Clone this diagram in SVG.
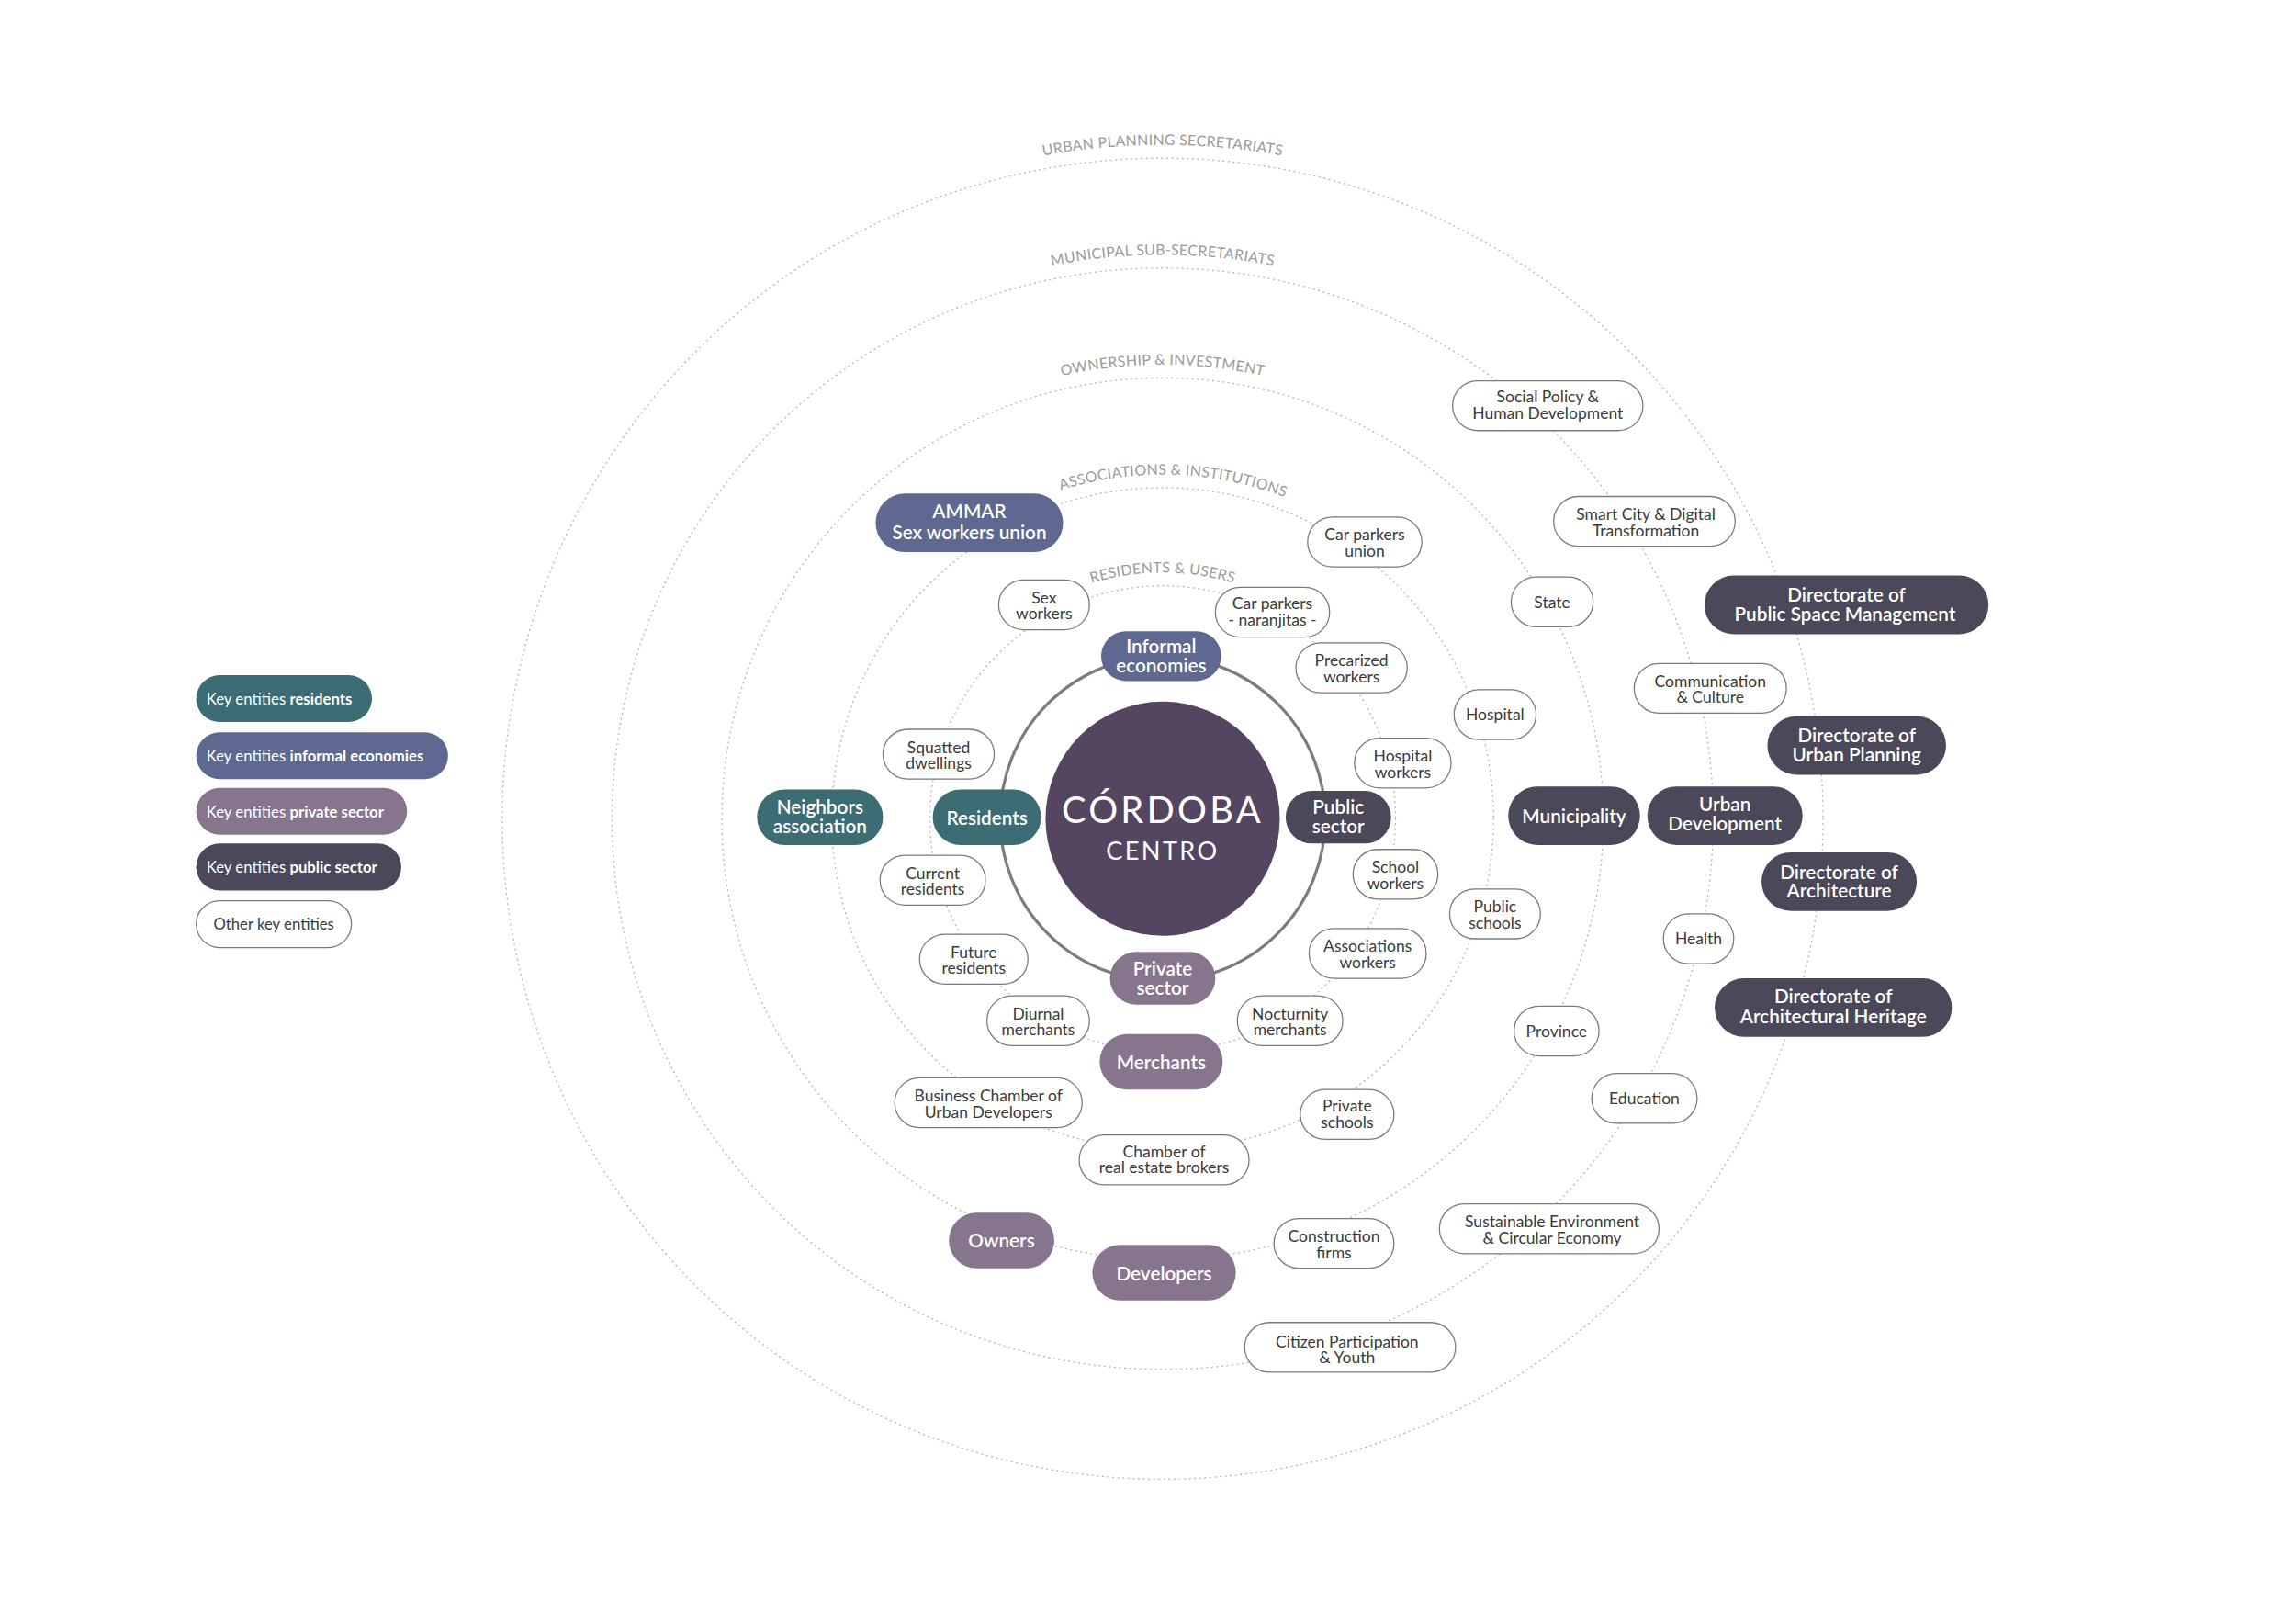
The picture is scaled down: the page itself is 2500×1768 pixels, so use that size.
<svg xmlns="http://www.w3.org/2000/svg" width="2500" height="1768" viewBox="0 0 2500 1768">
<style>
.ring{fill:none;stroke:#b8b8b8;stroke-width:0.9;stroke-dasharray:0.5 3;stroke-linecap:round}
.rl{font-family:Lato,"Liberation Sans",sans-serif;font-size:10px;fill:#9a9a9a;letter-spacing:0.2px}
.w rect{fill:#fff;stroke:#7a7a7a;stroke-width:0.8}
.w text{font-family:Lato,"Liberation Sans",sans-serif;font-size:11px;fill:#3a3a3a;text-anchor:middle}
.k text{font-family:Lato,"Liberation Sans",sans-serif;font-size:13px;fill:#fff;text-anchor:middle;font-weight:600}
.r rect{fill:#3c6c74}.i rect{fill:#5e6890}.p rect{fill:#86758d}.u rect{fill:#4a4859}
.lg text{font-family:Lato,"Liberation Sans",sans-serif;font-size:10.5px;fill:#fff}
.lg .w text{fill:#3a3a3a;text-anchor:middle}
</style>
<rect width="2500" height="1768" fill="#fff"/>
<g transform="scale(1.5944)">
<g id="rings">
<circle class="ring" cx="794" cy="559" r="451"/>
<circle class="ring" cx="794" cy="559" r="376"/>
<circle class="ring" cx="794" cy="559" r="301"/>
<circle class="ring" cx="794" cy="559" r="226"/>
<circle class="ring" cx="794" cy="559" r="159"/>
<path id="a1" d="M 334 559 A 460 460 0 0 1 1254 559" fill="none"/>
<path id="a2" d="M 409 559 A 385 385 0 0 1 1179 559" fill="none"/>
<path id="a3" d="M 484 559 A 310 310 0 0 1 1104 559" fill="none"/>
<path id="a4" d="M 559 559 A 235 235 0 0 1 1029 559" fill="none"/>
<path id="a5" d="M 626 559 A 168 168 0 0 1 962 559" fill="none"/>
<text class="rl"><textPath href="#a1" startOffset="50%" text-anchor="middle">URBAN PLANNING SECRETARIATS</textPath></text>
<text class="rl"><textPath href="#a2" startOffset="50%" text-anchor="middle">MUNICIPAL SUB-SECRETARIATS</textPath></text>
<text class="rl"><textPath href="#a3" startOffset="50%" text-anchor="middle">OWNERSHIP &amp; INVESTMENT</textPath></text>
<text class="rl"><textPath href="#a4" startOffset="51%" text-anchor="middle">ASSOCIATIONS &amp; INSTITUTIONS</textPath></text>
<text class="rl"><textPath href="#a5" startOffset="50%" text-anchor="middle">RESIDENTS &amp; USERS</textPath></text>
</g>
<g id="connectors">
<circle cx="794" cy="559" r="111" fill="none" stroke="#7d7a82" stroke-width="2"/>
</g>
<g id="center">
<circle cx="794" cy="559" r="80" fill="#544660"/>
<text x="794" y="562" font-family="Lato,'Liberation Sans',sans-serif" font-size="25" fill="#fff" text-anchor="middle" letter-spacing="2">CÓRDOBA</text>
<text x="794" y="587" font-family="Lato,'Liberation Sans',sans-serif" font-size="17" fill="#fff" text-anchor="middle" letter-spacing="1.5">CENTRO</text>
</g>
<g id="legend" class="lg">
<g id="lg1" class="r"><rect x="134" y="461" width="120" height="32" rx="16"/><text x="141" y="481">Key entities <tspan font-weight="700">residents</tspan></text></g>
<g id="lg2" class="i"><rect x="134" y="500" width="172" height="32" rx="16"/><text x="141" y="520">Key entities <tspan font-weight="700">informal economies</tspan></text></g>
<g id="lg3" class="p"><rect x="134" y="538" width="144" height="32" rx="16"/><text x="141" y="558">Key entities <tspan font-weight="700">private sector</tspan></text></g>
<g id="lg4" class="u"><rect x="134" y="576" width="140" height="32" rx="16"/><text x="141" y="596">Key entities <tspan font-weight="700">public sector</tspan></text></g>
<g id="lg5" class="w"><rect x="134" y="615" width="106" height="32" rx="16"/><text x="187" y="635">Other key entities</text></g>
</g>
<g id="n-ammar" class="k i"><rect x="598" y="337" width="128" height="40" rx="20"/><text x="662" y="354">AMMAR</text><text x="662" y="368">Sex workers union</text></g>
<g id="n-informal" class="k i"><rect x="752" y="431" width="82" height="34" rx="17"/><text x="793" y="446">Informal</text><text x="793" y="459">economies</text></g>
<g id="n-residents" class="k r"><rect x="637" y="539" width="74" height="38" rx="19"/><text x="674" y="563">Residents</text></g>
<g id="n-neighbors" class="k r"><rect x="517" y="539" width="86" height="38" rx="19"/><text x="560" y="556">Neighbors</text><text x="560" y="569">association</text></g>
<g id="n-public" class="k u"><rect x="878" y="540" width="72" height="36" rx="18"/><text x="914" y="556">Public</text><text x="914" y="569">sector</text></g>
<g id="n-private" class="k p"><rect x="758" y="650" width="72" height="36" rx="18"/><text x="794" y="666">Private</text><text x="794" y="679">sector</text></g>
<g id="n-merchants" class="k p"><rect x="751" y="706" width="84" height="38" rx="19"/><text x="793" y="730">Merchants</text></g>
<g id="n-owners" class="k p"><rect x="648" y="828" width="72" height="38" rx="19"/><text x="684" y="852">Owners</text></g>
<g id="n-developers" class="k p"><rect x="746" y="850" width="98" height="38" rx="19"/><text x="795" y="874">Developers</text></g>
<g id="n-municipality" class="k u"><rect x="1030" y="537" width="90" height="40" rx="20"/><text x="1075" y="562">Municipality</text></g>
<g id="n-urbandev" class="k u"><rect x="1125" y="537" width="106" height="40" rx="20"/><text x="1178" y="554">Urban</text><text x="1178" y="567">Development</text></g>
<g id="n-dpsm" class="k u"><rect x="1164" y="393" width="194" height="40" rx="20"/><text x="1261" y="411">Directorate of</text><text x="1260" y="424">Public Space Management</text></g>
<g id="n-dup" class="k u"><rect x="1207" y="489" width="122" height="40" rx="20"/><text x="1268" y="507">Directorate of</text><text x="1268" y="520">Urban Planning</text></g>
<g id="n-da" class="k u"><rect x="1203" y="582" width="106" height="40" rx="20"/><text x="1256" y="600">Directorate of</text><text x="1256" y="613">Architecture</text></g>
<g id="n-dah" class="k u"><rect x="1171" y="668" width="162" height="40" rx="20"/><text x="1252" y="685">Directorate of</text><text x="1252" y="699">Architectural Heritage</text></g>
<g id="n-sexw" class="w"><rect x="682" y="396" width="62" height="34" rx="17"/><text x="713" y="412">Sex</text><text x="713" y="423">workers</text></g>
<g id="n-naranjitas" class="w"><rect x="830" y="401" width="78" height="34" rx="17"/><text x="869" y="416">Car parkers</text><text x="869" y="427">- naranjitas -</text></g>
<g id="n-cpunion" class="w"><rect x="893" y="353" width="78" height="34" rx="17"/><text x="932" y="369">Car parkers</text><text x="932" y="380">union</text></g>
<g id="n-precar" class="w"><rect x="885" y="439" width="76" height="34" rx="17"/><text x="923" y="455">Precarized</text><text x="923" y="466">workers</text></g>
<g id="n-hospital" class="w"><rect x="993" y="471" width="56" height="34" rx="17"/><text x="1021" y="492">Hospital</text></g>
<g id="n-state" class="w"><rect x="1032" y="394" width="56" height="34" rx="17"/><text x="1060" y="415">State</text></g>
<g id="n-social" class="w"><rect x="992" y="260" width="130" height="34" rx="17"/><text x="1057" y="275">Social Policy &amp;</text><text x="1057" y="286">Human Development</text></g>
<g id="n-smart" class="w"><rect x="1061" y="339" width="124" height="34" rx="17"/><text x="1124" y="355">Smart City &amp; Digital</text><text x="1124" y="366">Transformation</text></g>
<g id="n-comm" class="w"><rect x="1116" y="453" width="104" height="34" rx="17"/><text x="1168" y="469">Communication</text><text x="1168" y="480">&amp; Culture</text></g>
<g id="n-health" class="w"><rect x="1136" y="624" width="48" height="34" rx="17"/><text x="1160" y="645">Health</text></g>
<g id="n-province" class="w"><rect x="1034" y="687" width="58" height="34" rx="17"/><text x="1063" y="708">Province</text></g>
<g id="n-education" class="w"><rect x="1087" y="733" width="72" height="34" rx="17"/><text x="1123" y="754">Education</text></g>
<g id="n-sustain" class="w"><rect x="983" y="822" width="150" height="34" rx="17"/><text x="1060" y="838">Sustainable Environment</text><text x="1060" y="849">&amp; Circular Economy</text></g>
<g id="n-citizen" class="w"><rect x="850" y="903" width="144" height="34" rx="17"/><text x="920" y="920">Citizen Participation</text><text x="920" y="931">&amp; Youth</text></g>
<g id="n-construction" class="w"><rect x="870" y="832" width="82" height="34" rx="17"/><text x="911" y="848">Construction</text><text x="911" y="859">firms</text></g>
<g id="n-privschools" class="w"><rect x="888" y="744" width="64" height="34" rx="17"/><text x="920" y="759">Private</text><text x="920" y="770">schools</text></g>
<g id="n-pubschools" class="w"><rect x="990" y="607" width="62" height="34" rx="17"/><text x="1021" y="623">Public</text><text x="1021" y="634">schools</text></g>
<g id="n-hospw" class="w"><rect x="925" y="504" width="66" height="34" rx="17"/><text x="958" y="520">Hospital</text><text x="958" y="531">workers</text></g>
<g id="n-schoolw" class="w"><rect x="924" y="580" width="58" height="34" rx="17"/><text x="953" y="596">School</text><text x="953" y="607">workers</text></g>
<g id="n-assocw" class="w"><rect x="894" y="634" width="80" height="34" rx="17"/><text x="934" y="650">Associations</text><text x="934" y="661">workers</text></g>
<g id="n-noct" class="w"><rect x="845" y="680" width="72" height="34" rx="17"/><text x="881" y="696">Nocturnity</text><text x="881" y="707">merchants</text></g>
<g id="n-diurnal" class="w"><rect x="674" y="680" width="70" height="34" rx="17"/><text x="709" y="696">Diurnal</text><text x="709" y="707">merchants</text></g>
<g id="n-chamber" class="w"><rect x="737" y="775" width="116" height="34" rx="17"/><text x="795" y="790">Chamber of</text><text x="795" y="801">real estate brokers</text></g>
<g id="n-business" class="w"><rect x="611" y="736" width="128" height="34" rx="17"/><text x="675" y="752">Business Chamber of</text><text x="675" y="763">Urban Developers</text></g>
<g id="n-future" class="w"><rect x="628" y="638" width="74" height="34" rx="17"/><text x="665" y="654">Future</text><text x="665" y="665">residents</text></g>
<g id="n-current" class="w"><rect x="601" y="584" width="72" height="34" rx="17"/><text x="637" y="600">Current</text><text x="637" y="611">residents</text></g>
<g id="n-squatted" class="w"><rect x="603" y="498" width="76" height="34" rx="17"/><text x="641" y="514">Squatted</text><text x="641" y="525">dwellings</text></g>
</g>
</svg>
